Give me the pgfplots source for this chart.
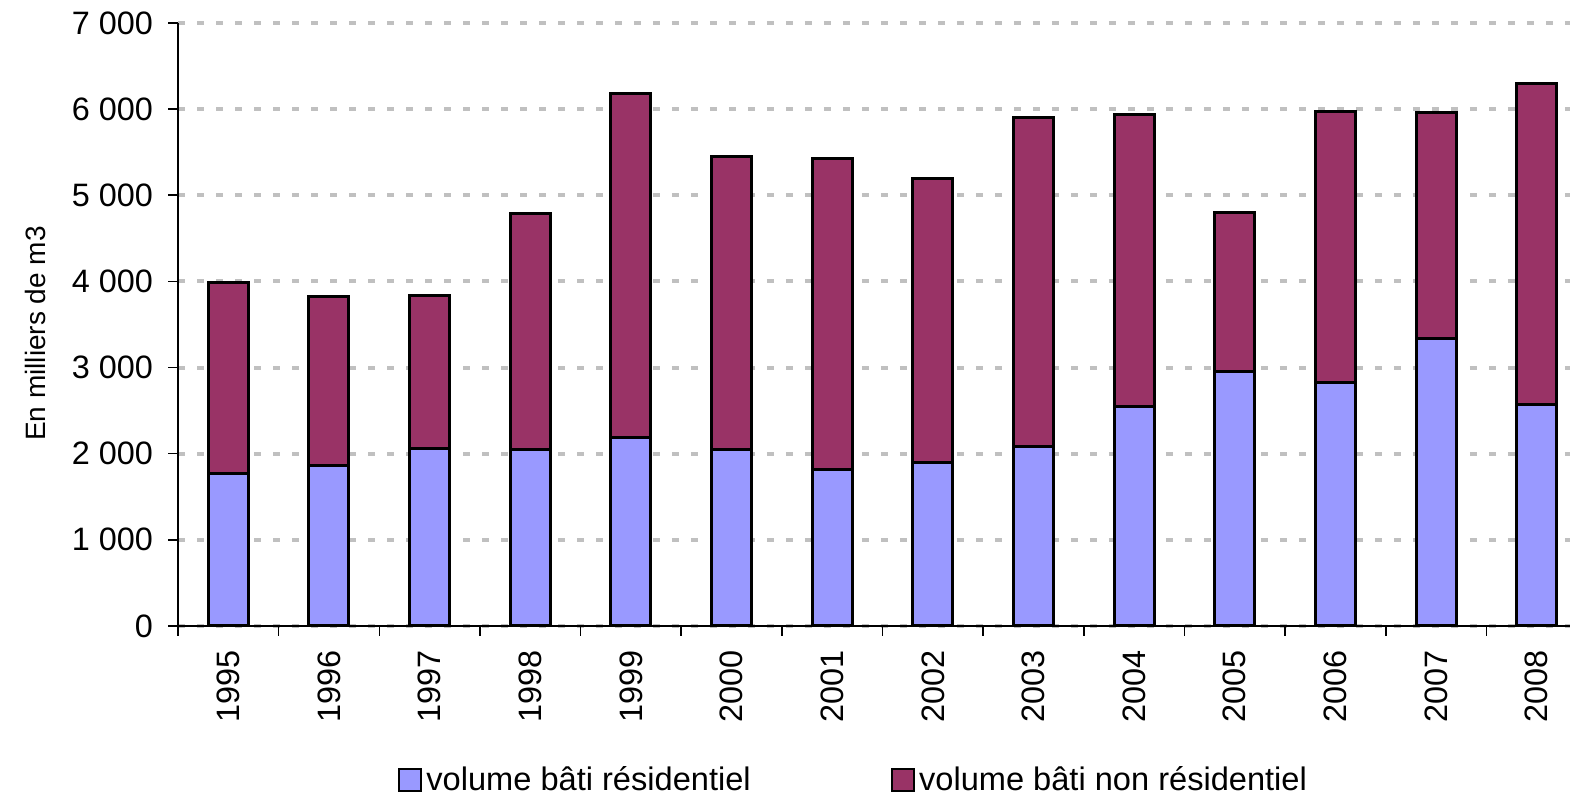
\documentclass[border=0pt]{standalone}
\usepackage{fontspec}
\setmainfont{Liberation Sans}
\usepackage{pgfplots}
\pgfplotsset{compat=1.18}
\definecolor{resid}{RGB}{153,153,255}
\definecolor{nonresid}{RGB}{153,51,102}
\definecolor{gridgray}{RGB}{192,192,192}
\begin{document}
\begin{tikzpicture}
\begin{axis}[
  scale only axis,
  width=696pt, height=301.5pt,
  ybar stacked,
  bar width=20pt,
  xmin=-0.5, xmax=13.33,
  ymin=0, ymax=7000,
  axis x line*=bottom,
  axis y line*=left,
  axis line style={line width=0.8pt},
  tick align=outside,
  major tick length=5pt,
  tick style={line width=0.8pt, black},
  xtick={0,...,13},
  xticklabels={1995,1996,1997,1998,1999,2000,2001,2002,2003,2004,2005,2006,2007,2008},
  xtick style={draw=none},
  extra x ticks={-0.5,0.5,1.5,2.5,3.5,4.5,5.5,6.5,7.5,8.5,9.5,10.5,11.5,12.5},
  extra x tick labels={},
  extra x tick style={xtick style={draw=black}, grid=none},
  x tick label style={rotate=90, anchor=east, font=\fontsize{16.2}{19}\selectfont, xshift=-3.5pt},
  ytick={0,1000,...,7000},
  yticklabels={0,{1 000},{2 000},{3 000},{4 000},{5 000},{6 000},{7 000}},
  y tick label style={font=\fontsize{16.2}{19}\selectfont, xshift=-4pt},
  ymajorgrids,
  grid style={gridgray, line width=2pt, dash pattern=on 3.5pt off 6pt},
  ylabel={En milliers de m3},
  ylabel style={at={(axis description cs:-0.1027,0.485)}, anchor=center, font=\fontsize{14}{17}\selectfont},
  legend style={at={(axis description cs:0.486,-0.256)}, anchor=center, draw=none,
    font=\fontsize{16.3}{19}\selectfont, legend columns=2,
    /tikz/every even column/.append style={column sep=68pt}},
  legend image code/.code={\draw[#1, line width=1.2pt] (0pt,-5.5pt) rectangle (11pt,5.5pt);},
  clip=false,
]
\addplot[fill=resid, draw=black, line width=1.5pt] coordinates {
  (0,1765) (1,1857) (2,2055) (3,2043) (4,2183) (5,2043) (6,1811)
  (7,1892) (8,2078) (9,2542) (10,2949) (11,2821) (12,3332) (13,2566)
};
\addlegendentry{volume bâti résidentiel}
\addplot[fill=nonresid, draw=black, line width=1.5pt] coordinates {
  (0,2217) (1,1962) (2,1776) (3,2740) (4,3993) (5,3402) (6,3610)
  (7,3297) (8,3819) (9,3390) (10,1845) (11,3157) (12,2623) (13,3726)
};
\addlegendentry{volume bâti non résidentiel}
\path (axis description cs:-0.1279,-0.2852) rectangle (axis description cs:1.0022,1.0381);
\end{axis}
\end{tikzpicture}
\end{document}
